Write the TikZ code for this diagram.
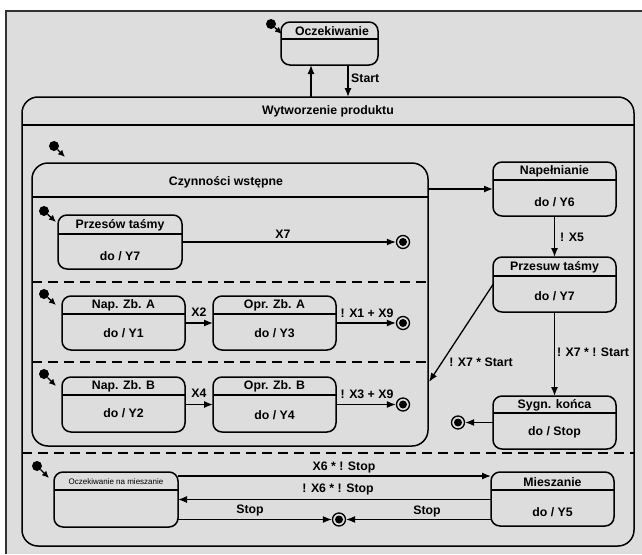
\documentclass[tikz,border=0pt]{standalone}
\usepackage{fontspec}
\setmainfont{Liberation Sans}
\usetikzlibrary{arrows.meta}
\definecolor{bggrey}{HTML}{DDDDDD}
\definecolor{framegrey}{HTML}{333333}
\tikzset{
  box/.style={draw=black, line width=1.5pt, rounded corners=9pt, inner sep=0pt, outer sep=0pt, anchor=north west},
  bigbox/.style={box, rounded corners=16pt},
  hdr/.style={line width=1.5pt},
  lbl/.style={font=\bfseries\fontsize{12.3}{14}\selectfont, inner sep=0pt},
  tiny/.style={font=\fontsize{8}{9}\selectfont, inner sep=0pt},
  arr/.style={line width=1.3pt, -{Latex[length=9pt,width=7pt]}},
  initarr/.style={line width=1.4pt, -{Latex[length=7pt,width=6.5pt]}},
  sepline/.style={line width=1.3pt, dash pattern=on 10pt off 6pt},
  initdot/.style={circle, fill=black, minimum size=10pt, inner sep=0pt},
  fin/.style={circle, draw=black, line width=1.3pt, minimum size=13pt, inner sep=0pt,
    path picture={\fill[black] (path picture bounding box.center) circle (4pt);}},
}
\begin{document}
\begin{tikzpicture}[x=1pt,y=-1pt]
\useasboundingbox (0,0) rectangle (642,554);
\fill[bggrey] (6,11) rectangle (642,554);
\draw[framegrey, line width=2pt] (6,554) -- (6,11) -- (642,11);

% top state
\node[box, minimum width=97pt, minimum height=43pt] (ocz) at (281,22) {};
\draw[hdr] (281,39) -- (378,39);
\node[lbl] (oczT) at (332,31) {Oczekiwanie};
\node[initdot] (i0) at (271,24) {};
\coordinate (i0e) at (282,34);
\draw[initarr] (i0) -- (i0e);

% Wytworzenie produktu
\node[bigbox, minimum width=612pt, minimum height=449pt] (wyt) at (22,97) {};
\draw[hdr] (22,125) -- (634,125);
\node[lbl] (wytT) at (328,111) {Wytworzenie produktu};
\draw[arr] ([xshift=-17pt]wyt.north) -- ([xshift=-17pt]wyt.north |- ocz.south);
\draw[arr] ([xshift=18.5pt]ocz.south) -- ([xshift=18.5pt]ocz.south |- wyt.north);
\node[lbl, anchor=west] (startL) at (351,78) {Start};

% Czynnosci wstepne
\node[bigbox, minimum width=396pt, minimum height=283pt] (czy) at (32,163) {};
\draw[hdr] (32,197) -- (428,197);
\node[lbl] (czyT) at (226,182) {Czynności wstępne};
\node[initdot] (i1) at (54,146) {};
\coordinate (i1e) at (65,157);
\draw[initarr] (i1) -- (i1e);

% region 1
\node[box, minimum width=124pt, minimum height=54pt] (pt) at (58,215) {};
\draw[hdr] (58,234) -- (182,234);
\node[lbl] (ptT) at (120,225) {Przesów taśmy};
\node[lbl] (ptD) at (120,256) {do / Y7};
\node[initdot] (i2) at (44,211) {};
\coordinate (i2e) at (56,222);
\draw[initarr] (i2) -- (i2e);
\node[fin] (fin1) at (403,242) {};
\draw[arr] (pt.east) -- (fin1);
\node[lbl] (x7) at (283,234) {X7};

\draw[sepline] (32,282) -- (428,282);

% region 2
\node[box, minimum width=123pt, minimum height=54pt] (napA) at (62,296) {};
\draw[hdr] (62,314) -- (185,314);
\node[lbl] (napAT) at (123.5,305) {Nap. Zb. A};
\node[lbl] (napAD) at (123.5,333) {do / Y1};
\node[box, minimum width=123pt, minimum height=54pt] (oprA) at (213,296) {};
\draw[hdr] (213,314) -- (336,314);
\node[lbl] (oprAT) at (274.5,305) {Opr. Zb. A};
\node[lbl] (oprAD) at (274.5,333) {do / Y3};
\node[initdot] (i3) at (44,294) {};
\coordinate (i3e) at (56,305);
\draw[initarr] (i3) -- (i3e);
\draw[arr] (napA.east) -- (oprA.west);
\node[lbl] (x2) at (199,312) {X2};
\node[fin] (fin2) at (403,323) {};
\draw[arr] (oprA.east) -- (fin2);
\node[lbl] (x1x9) at (367,313) {! X1 + X9};

\draw[sepline] (32,362) -- (428,362);

% region 3
\node[box, minimum width=123pt, minimum height=55pt] (napB) at (62,377) {};
\draw[hdr] (62,395) -- (185,395);
\node[lbl] (napBT) at (123.5,386) {Nap. Zb. B};
\node[lbl] (napBD) at (123.5,413) {do / Y2};
\node[box, minimum width=123pt, minimum height=55pt] (oprB) at (213,377) {};
\draw[hdr] (213,395) -- (336,395);
\node[lbl] (oprBT) at (274.5,386) {Opr. Zb. B};
\node[lbl] (oprBD) at (274.5,415) {do / Y4};
\node[initdot] (i4) at (44,374) {};
\coordinate (i4e) at (56,386);
\draw[initarr] (i4) -- (i4e);
\draw[arr] (napB.east) -- (oprB.west);
\node[lbl] (x4) at (199,393) {X4};
\node[fin] (fin3) at (403,404.5) {};
\draw[arr] (oprB.east) -- (fin3);
\node[lbl] (x3x9) at (367,394) {! X3 + X9};

% right column
\node[box, minimum width=123pt, minimum height=54pt] (nap) at (493,162) {};
\draw[hdr] (493,180) -- (616,180);
\node[lbl] (napT) at (554.5,171) {Napełnianie};
\node[lbl] (napD) at (554.5,202) {do / Y6};
\draw[arr] (czy.east |- nap.west) -- (nap.west);

\node[box, minimum width=123pt, minimum height=55pt] (prz) at (493,257) {};
\draw[hdr] (493,276) -- (616,276);
\node[lbl] (przT) at (554.5,267) {Przesuw taśmy};
\node[lbl] (przD) at (554.5,296) {do / Y7};
\draw[arr] (nap.south) -- (prz.north);
\node[lbl] (x5) at (572,237) {! X5};

\node[box, minimum width=123pt, minimum height=53pt] (syg) at (493,396) {};
\draw[hdr] (493,413) -- (616,413);
\node[lbl] (sygT) at (554.5,405) {Sygn. końca};
\node[lbl] (sygD) at (554.5,432) {do / Stop};
\draw[arr] (prz.south) -- (syg.north);
\node[lbl] (x7ns) at (593,352) {! X7 * ! Start};
\node[fin] (fin4) at (458,422.5) {};
\draw[arr] (syg.west) -- (fin4);

\coordinate (czyin) at (429,382);
\draw[arr] (prz.west) -- (czyin);
\node[lbl] (x7s) at (481,362) {! X7 * Start};

\draw[sepline] (22,453) -- (634,453);

% mixing region
\node[box, minimum width=124pt, minimum height=55pt] (om) at (54,472) {};
\draw[hdr] (54,490) -- (178,490);
\node[tiny] (omT) at (116,482) {Oczekiwanie na mieszanie};
\node[initdot] (i5) at (37,466) {};
\coordinate (i5e) at (49,478);
\draw[initarr] (i5) -- (i5e);

\node[box, minimum width=123pt, minimum height=54pt] (mie) at (491,472) {};
\draw[hdr] (491,490) -- (614,490);
\node[lbl] (mieT) at (552.5,482) {Mieszanie};
\node[lbl] (mieD) at (552.5,512) {do / Y5};

\draw[arr] ([yshift=23.5pt]om.east) -- ([yshift=23.5pt]om.east -| mie.west);
\node[lbl] (x6s) at (344,467) {X6 * ! Stop};
\draw[arr] (mie.west |- om.east) -- (om.east);
\node[lbl] (nx6s) at (338,489) {! X6 * ! Stop};
\node[fin] (fin5) at (339,519.5) {};
\draw[arr] ([yshift=-20pt]om.east) -- (fin5);
\node[lbl] (stopL) at (250,510) {Stop};
\draw[arr] (fin5 -| mie.west) -- (fin5);
\node[lbl] (stopR) at (427,511) {Stop};
\end{tikzpicture}
\end{document}
